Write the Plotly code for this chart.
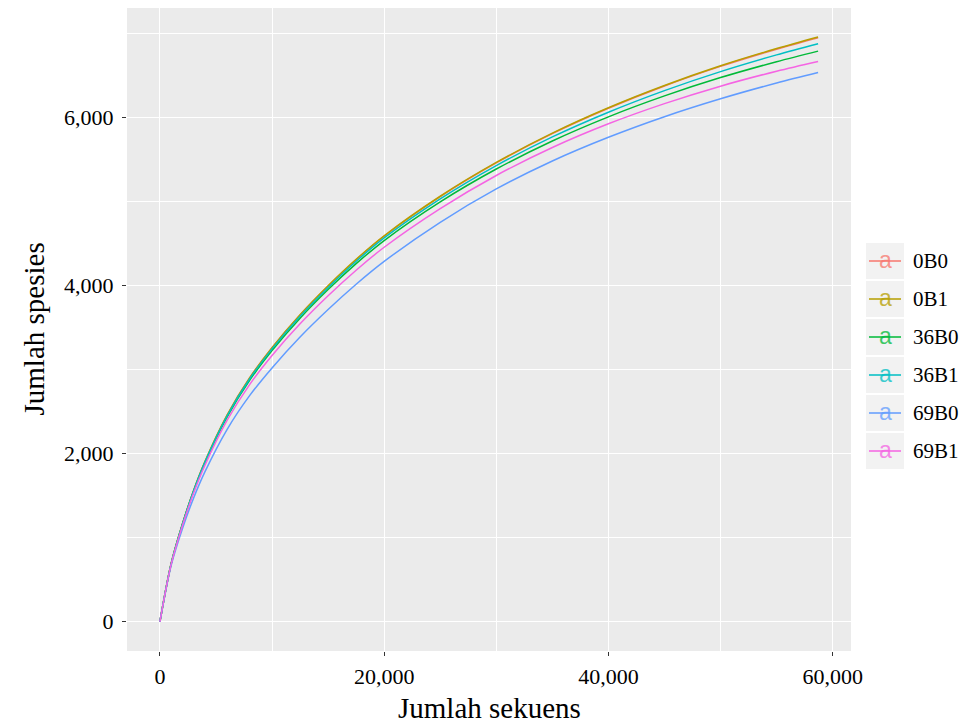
import plotly.graph_objects as go

# Rarefaction curves: number of species observed vs. number of sequences sampled
seq_depth = [0, 1000, 2000, 3000, 4000, 6000, 8000, 10000, 12500, 15000, 17500,
             20000, 25000, 30000, 35000, 40000, 45000, 50000, 55000, 58700]

sp_0B0 = [0, 690, 1160, 1560, 1900, 2460, 2900, 3260, 3650, 3995, 4308,
          4588, 5058, 5460, 5808, 6110, 6375, 6608, 6813, 6950]
sp_0B1 = [0, 690, 1160, 1560, 1901, 2461, 2902, 3262, 3653, 3998, 4312,
          4592, 5063, 5465, 5814, 6116, 6381, 6615, 6820, 6958]
sp_36B0 = [0, 687, 1153, 1549, 1885, 2438, 2872, 3227, 3612, 3953, 4261,
           4536, 4996, 5387, 5721, 6008, 6257, 6475, 6664, 6790]
sp_36B1 = [0, 689, 1157, 1555, 1894, 2451, 2889, 3247, 3635, 3978, 4289,
           4567, 5032, 5428, 5769, 6063, 6320, 6546, 6745, 6878]
sp_69B0 = [0, 670, 1105, 1470, 1780, 2290, 2690, 3020, 3388, 3715, 4016,
           4288, 4753, 5150, 5483, 5765, 6010, 6223, 6411, 6536]
sp_69B1 = [0, 682, 1140, 1528, 1856, 2398, 2822, 3168, 3545, 3879, 4183,
           4456, 4916, 5310, 5643, 5925, 6165, 6373, 6551, 6667]

sample_names = ["0B0", "0B1", "36B0", "36B1", "69B0", "69B1"]
sample_values = [sp_0B0, sp_0B1, sp_36B0, sp_36B1, sp_69B0, sp_69B1]
sample_colors = ["#F8766D", "#B79F00", "#00BA38", "#00BFC4", "#619CFF", "#F564E3"]

x_tick_vals = [0, 20000, 40000, 60000]
x_tick_text = ["0", "20,000", "40,000", "60,000"]
y_tick_vals = [0, 2000, 4000, 6000]
y_tick_text = ["0", "2,000", "4,000", "6,000"]

x_title = "Jumlah sekuens"
y_title = "Jumlah spesies"

# ---- page geometry (pixels) ----
W, H = 973, 724
M_L, M_R, M_T, M_B = 127, 122, 8, 73
PW, PH = W - M_L - M_R, H - M_T - M_B


def px_x(px):
    return (px - M_L) / PW


def px_y(py):
    return (H - M_B - py) / PH


SERIF = "Liberation Serif, Times New Roman, serif"

fig = go.Figure()
for name, vals, col in zip(sample_names, sample_values, sample_colors):
    fig.add_trace(go.Scatter(
        x=seq_depth, y=vals, name=name, mode="lines",
        line=dict(color=col, width=1.5, shape="spline", smoothing=0.9),
        showlegend=False,
    ))

# ---- ggplot-style legend: grey key boxes with a line and an "a" glyph ----
shapes = []
annotations = []
key_left, key_right = 866, 904
first_center, step = 261, 38
for i, (name, col) in enumerate(zip(sample_names, sample_colors)):
    cy = first_center + i * step
    shapes.append(dict(type="rect", xref="paper", yref="paper",
                       x0=px_x(key_left), x1=px_x(key_right),
                       y0=px_y(cy + 18), y1=px_y(cy - 18),
                       fillcolor="#F2F2F2", line=dict(width=0), layer="below"))
    shapes.append(dict(type="line", xref="paper", yref="paper",
                       x0=px_x(key_left + 3), x1=px_x(key_right - 3),
                       y0=px_y(cy), y1=px_y(cy),
                       line=dict(color=col, width=2), opacity=0.75))
    annotations.append(dict(xref="paper", yref="paper",
                            x=px_x((key_left + key_right) / 2), y=px_y(cy - 1),
                            text="a", showarrow=False,
                            xanchor="center", yanchor="middle",
                            font=dict(family="Liberation Sans, Arial, sans-serif",
                                      size=23, color=col), opacity=0.75))
    annotations.append(dict(xref="paper", yref="paper",
                            x=px_x(911), y=px_y(cy),
                            text=name, showarrow=False,
                            xanchor="left", yanchor="middle",
                            font=dict(family=SERIF, size=21, color="black")))

# axis titles
annotations.append(dict(xref="paper", yref="paper", x=0.5, y=px_y(708),
                        text=x_title, showarrow=False,
                        xanchor="center", yanchor="middle",
                        font=dict(family=SERIF, size=29, color="black")))
annotations.append(dict(xref="paper", yref="paper", x=px_x(33), y=0.5,
                        text=y_title, showarrow=False, textangle=-90,
                        xanchor="center", yanchor="middle",
                        font=dict(family=SERIF, size=29, color="black")))

axis_common = dict(
    showline=False, zeroline=False,
    showgrid=True, gridcolor="white", gridwidth=1.4,
    ticks="outside", ticklen=4, tickwidth=1, tickcolor="#333333",
    tickfont=dict(family=SERIF, size=22, color="black"),
)

fig.update_layout(
    width=W, height=H,
    margin=dict(l=M_L, r=M_R, t=M_T, b=M_B, autoexpand=False),
    paper_bgcolor="white", plot_bgcolor="#EBEBEB",
    shapes=shapes, annotations=annotations,
    showlegend=False,
    xaxis=dict(range=[-2935, 61635], tickvals=x_tick_vals, ticktext=x_tick_text,
               minor=dict(dtick=10000, tick0=0, showgrid=True, gridcolor="white",
                          gridwidth=0.7, ticks=""),
               ticklabelstandoff=2, **axis_common),
    yaxis=dict(range=[-348, 7303], tickvals=y_tick_vals, ticktext=y_tick_text,
               minor=dict(dtick=1000, tick0=0, showgrid=True, gridcolor="white",
                          gridwidth=0.7, ticks=""),
               ticklabelstandoff=4, **axis_common),
)

fig.write_html("out.html")
